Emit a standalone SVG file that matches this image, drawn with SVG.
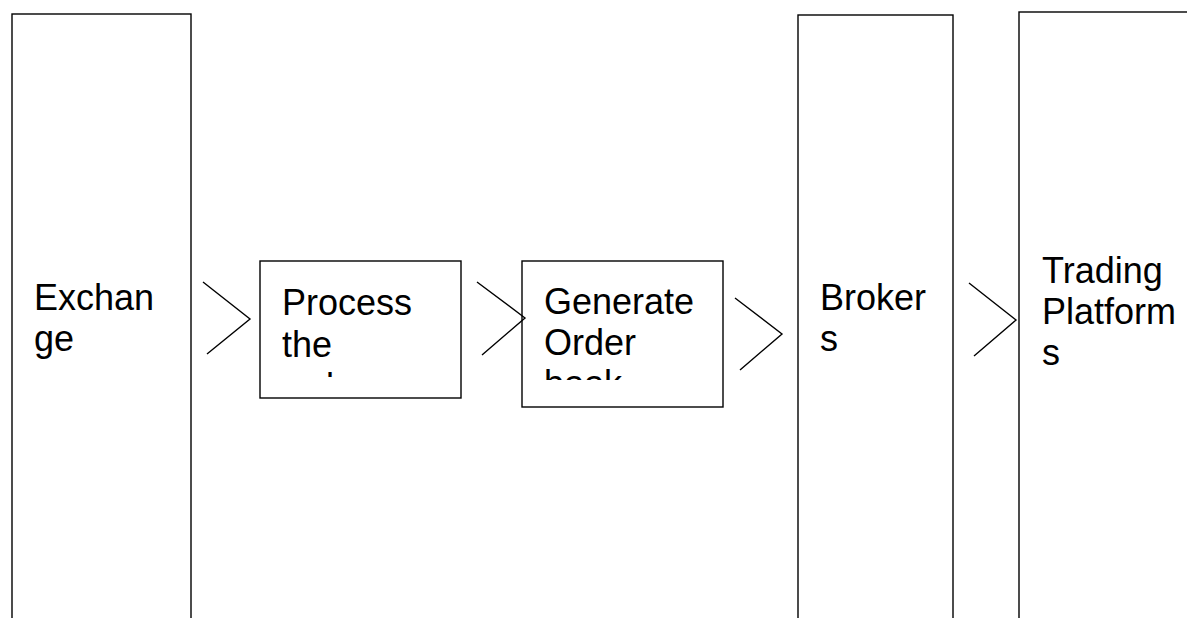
<svg xmlns="http://www.w3.org/2000/svg" width="1187" height="618" viewBox="0 0 1187 618">
<style>
.box{fill:#fff;stroke:#000;stroke-width:1.4}
.t{font-family:"Liberation Sans",Arial,sans-serif;font-size:36px;fill:#000}
.c{fill:none;stroke:#000;stroke-width:1.4}
</style>
<defs>
<clipPath id="cp1"><rect x="260" y="261" width="201" height="116"/></clipPath>
<clipPath id="cp2"><rect x="522" y="261" width="201" height="119"/></clipPath>
</defs>
<rect width="1187" height="618" fill="#fff"/>
<g id="exchange">
<rect class="box" x="12" y="14" width="179" height="620"/>
<text class="t" x="34" y="310">Exchan</text>
<text class="t" x="34" y="351">ge</text>
</g>
<g id="process">
<rect class="box" x="260" y="261" width="201" height="137"/>
<g clip-path="url(#cp1)">
<text class="t" x="282" y="315">Process</text>
<text class="t" x="282" y="357">the</text>
<text class="t" x="282" y="399">order</text>
</g>
</g>
<g id="generate">
<rect class="box" x="522" y="261" width="201" height="146"/>
<g clip-path="url(#cp2)">
<text class="t" x="544" y="314">Generate</text>
<text class="t" x="544" y="355">Order</text>
<text class="t" x="544" y="396">book</text>
</g>
</g>
<g id="brokers">
<rect class="box" x="798" y="15" width="155" height="620"/>
<text class="t" x="820" y="310">Broker</text>
<text class="t" x="820" y="351">s</text>
</g>
<g id="trading">
<rect class="box" x="1019" y="12" width="200" height="620"/>
<text class="t" x="1042" y="283">Trading</text>
<text class="t" x="1042" y="324">Platform</text>
<text class="t" x="1042" y="365">s</text>
</g>
<g id="connectors">
<polyline class="c" points="203,282 250,319 207,354"/>
<polyline class="c" points="477,282 525,318 482,355"/>
<polyline class="c" points="735,298 782,334 740,370"/>
<polyline class="c" points="969,283 1016,320 974,356"/>
</g>
</svg>
